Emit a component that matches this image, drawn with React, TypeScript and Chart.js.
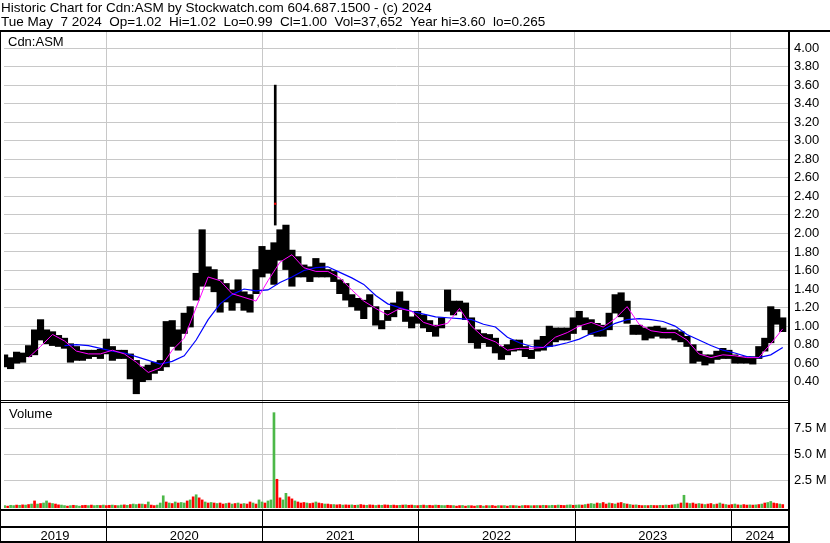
import { useEffect, useRef } from 'react';
import { Chart, registerables } from 'chart.js';

Chart.register(...registerables);

const headerLines = [
  'Historic Chart for Cdn:ASM by Stockwatch.com 604.687.1500 - (c) 2024',
  'Tue May  7 2024  Op=1.02  Hi=1.02  Lo=0.99  Cl=1.00  Vol=37,652  Year hi=3.60  lo=0.265',
];
const symbolLabel = 'Cdn:ASM';
const volumeLabel = 'Volume';

// time axis (decimal years)
const xMinYear = 2019.346;
const xMaxYear = 2024.373;
const firstSampleYear = 2019.35;
const priceStepYears = 14 / 365.25; // two-week high/low envelopes
const maStepYears = 28 / 365.25; // moving-average readings every four weeks
const volumeStepYears = 7 / 365.25; // weekly volume readings
const yearBoundaries = [2020, 2021, 2022, 2023, 2024];
const yearLabels = ['2019', '2020', '2021', '2022', '2023', '2024'];

const priceTicks = [0.4, 0.6, 0.8, 1.0, 1.2, 1.4, 1.6, 1.8, 2.0, 2.2, 2.4, 2.6, 2.8, 3.0, 3.2, 3.4, 3.6, 3.8, 4.0];
const volumeTicks = [2.5, 5.0, 7.5];

const priceHigh = [
  0.69, 0.66, 0.72, 0.71, 0.79, 0.96, 1.07, 0.96, 0.94, 0.90,
  0.87, 0.81, 0.78, 0.74, 0.74, 0.74, 0.75, 0.86, 0.78, 0.74,
  0.74, 0.70, 0.63, 0.56, 0.58, 0.61, 0.63, 1.05, 1.06, 0.96,
  1.14, 1.21, 1.57, 2.04, 1.64, 1.61, 1.50, 1.46, 1.39, 1.50,
  1.37, 1.34, 1.61, 1.86, 1.82, 1.90, 2.04, 2.09, 1.82, 1.75,
  1.66, 1.64, 1.73, 1.68, 1.61, 1.59, 1.50, 1.46, 1.34, 1.30,
  1.28, 1.34, 1.21, 1.06, 1.17, 1.25, 1.37, 1.27, 1.10, 1.16,
  1.12, 1.06, 1.01, 1.09, 1.39, 1.27, 1.27, 1.25, 1.09, 0.96,
  0.92, 0.91, 0.87, 0.78, 0.80, 0.85, 0.85, 0.78, 0.74, 0.85,
  0.89, 1.00, 0.98, 0.98, 0.98, 1.09, 1.16, 1.09, 1.07, 1.03,
  1.01, 1.14, 1.34, 1.36, 1.27, 1.01, 1.01, 0.98, 0.99, 1.00,
  0.98, 0.96, 0.96, 0.94, 0.89, 0.80, 0.73, 0.69, 0.69, 0.73,
  0.76, 0.74, 0.69, 0.67, 0.67, 0.67, 0.78, 0.87, 1.21, 1.18,
  1.09,
];
const priceLow = [
  0.56, 0.54, 0.60, 0.61, 0.67, 0.69, 0.85, 0.81, 0.79, 0.78,
  0.76, 0.61, 0.63, 0.63, 0.65, 0.67, 0.65, 0.70, 0.63, 0.65,
  0.65, 0.43, 0.27, 0.40, 0.42, 0.49, 0.52, 0.56, 0.78, 0.74,
  0.92, 0.99, 1.28, 1.43, 1.43, 1.37, 1.15, 1.26, 1.17, 1.25,
  1.17, 1.15, 1.35, 1.53, 1.57, 1.45, 1.71, 1.61, 1.43, 1.53,
  1.53, 1.48, 1.53, 1.53, 1.53, 1.48, 1.35, 1.28, 1.21, 1.17,
  1.08, 1.21, 1.01, 0.97, 1.06, 1.10, 1.18, 1.05, 0.98, 1.03,
  0.98, 0.94, 0.89, 0.98, 1.16, 1.12, 1.16, 1.07, 0.82, 0.76,
  0.82, 0.78, 0.71, 0.64, 0.69, 0.73, 0.74, 0.67, 0.65, 0.73,
  0.74, 0.78, 0.83, 0.85, 0.85, 0.92, 1.01, 0.96, 0.91, 0.89,
  0.89, 0.96, 1.14, 1.10, 1.03, 0.91, 0.91, 0.85, 0.87, 0.89,
  0.87, 0.87, 0.85, 0.83, 0.78, 0.60, 0.62, 0.58, 0.60, 0.64,
  0.65, 0.65, 0.60, 0.60, 0.60, 0.59, 0.65, 0.73, 0.82, 1.02,
  0.94,
];

// the single-day spike of January 2021
const spikeYear = [2021.083];
const spikeLow = [2.09];
const spikeHigh = [3.6];
const spikeClose = [2.32];

const maShort = [
  null, null, 0.66, 0.78, 0.91, 0.84, 0.73, 0.70, 0.70, 0.74,
  0.70, 0.61, 0.50, 0.55, 0.74, 0.87, 1.20, 1.53, 1.49, 1.35,
  1.31, 1.27, 1.49, 1.69, 1.77, 1.63, 1.59, 1.59, 1.52, 1.39,
  1.27, 1.19, 1.12, 1.19, 1.16, 1.04, 1.00, 1.03, 1.19, 1.00,
  0.88, 0.83, 0.74, 0.76, 0.76, 0.77, 0.88, 0.93, 1.00, 1.04,
  0.99, 1.08, 1.21, 1.02, 0.95, 0.93, 0.93, 0.85, 0.70, 0.66,
  0.69, 0.68, 0.66, 0.66, 0.81, 0.97,
];
const maLong = [
  null, null, null, null, null, 0.79, 0.80, 0.79, 0.76, 0.73,
  0.71, 0.67, 0.63, 0.59, 0.62, 0.68, 0.85, 1.07, 1.24, 1.34,
  1.40, 1.38, 1.39, 1.47, 1.53, 1.60, 1.63, 1.64, 1.58, 1.52,
  1.45, 1.33, 1.24, 1.20, 1.16, 1.13, 1.10, 1.09, 1.08, 1.07,
  1.02, 0.99, 0.88, 0.82, 0.78, 0.77, 0.79, 0.82, 0.86, 0.92,
  0.96, 1.03, 1.07, 1.08, 1.07, 1.05, 1.00, 0.91, 0.85, 0.79,
  0.74, 0.71, 0.67, 0.66, 0.69, 0.77,
];

// weekly volume, millions of shares
const volume = [
  0.05, 0, 0.08, 0.05, 0.1, 0.08, 0.12, 0.1, 0.15, 0.2,
  0.5, 0.2, 0.25, 0.3, 0.5, 0.3, 0.25, 0.2, 0.12, 0.1,
  0.05, 0, 0.05, 0.08, 0.05, 0, 0.06, 0.08, 0.05, 0.1,
  0.05, 0.08, 0.06, 0.1, 0.05, 0.08, 0.1, 0.06, 0.05, 0.1,
  0.12, 0.08, 0.15, 0.2, 0.15, 0.2, 0.2, 0.15, 0.4, 0.1,
  0.05, 0.1, 0.3, 1.0, 0.4, 0.3, 0.25, 0.4, 0.3, 0.35,
  0.3, 0.5, 0.6, 0.9, 1.1, 0.8, 0.6, 0.4, 0.3, 0.35,
  0.3, 0.25, 0.3, 0.2, 0.25, 0.3, 0.2, 0.25, 0.3, 0.2,
  0.25, 0.2, 0.4, 0.3, 0.2, 0.6, 0.4, 0.3, 0.5, 0.6,
  9.05, 2.6, 0.8, 0.6, 1.24, 0.9, 0.7, 0.5, 0.4, 0.3,
  0.35, 0.3, 0.25, 0.3, 0.4, 0.3, 0.25, 0.2, 0.2, 0.15,
  0.15, 0.12, 0.15, 0.1, 0.12, 0.1, 0.12, 0.08, 0.1, 0.15,
  0.1, 0.08, 0.12, 0.1, 0.06, 0.1, 0.08, 0.12, 0.1, 0.08,
  0.1, 0.06, 0.08, 0.1, 0.12, 0.08, 0.1, 0.06, 0.05, 0.08,
  0.1, 0.06, 0.08, 0.05, 0.1, 0.08, 0.06, 0.05, 0.08, 0.06,
  0.05, 0, 0.05, 0.06, 0, 0.05, 0.04, 0, 0.05, 0.06,
  0, 0.05, 0.04, 0.06, 0, 0.05, 0.04, 0.05, 0, 0.06,
  0.05, 0.04, 0, 0.05, 0.06, 0.05, 0.04, 0.05, 0.06, 0.05,
  0.08, 0.06, 0.05, 0.08, 0.06, 0.1, 0.08, 0.06, 0.1, 0.12,
  0.08, 0.1, 0.12, 0.1, 0.15, 0.2, 0.25, 0.2, 0.3, 0.25,
  0.35, 0.2, 0.3, 0.25, 0.2, 0.3, 0.35, 0.25, 0.2, 0.15,
  0.1, 0.12, 0.08, 0.05, 0.06, 0.05, 0.08, 0.06, 0.05, 0.08,
  0.06, 0.1, 0.08, 0.12, 0.15, 0.2, 0.3, 1.05, 0.3, 0.25,
  0.3, 0.2, 0.25, 0.2, 0.15, 0.2, 0.25, 0.15, 0.2, 0.3,
  0.2, 0.15, 0.1, 0.15, 0.2, 0.12, 0.1, 0.15, 0.1, 0.12,
  0.1, 0.12, 0.15, 0.2, 0.3, 0.35, 0.45, 0.3, 0.25, 0.2,
  0.15,
];
// g = up week, r = down week
const volumeDir =
  'grggrgrgrg' + 'rgrggrgrrg' + 'grgrggrrgr' + 'ggrgrrgrgg' + 'rgrggrgrgr' +
  'rgggrgrgrg' + 'grgrgrrgrg' + 'rgrrgrgrgr' + 'grrgrggrgg' + 'grrggrrgrr' +
  'rgrrgrrgrr' + 'grrgrrgrgr' + 'rgrrgrgrrg' + 'rrgrgrrgrg' + 'rgrrgrggrr' +
  'grrgrgrrgr' + 'grgrrgrgrg' + 'rgrgrrgrgr' + 'grggrgrrgg' + 'rggrgrggrg' +
  'rrgrgrrgrg' + 'rgrrgrgrrg' + 'rgrrggrgrg' + 'rrgrgrrgrg' + 'rgrrgrgrrg' +
  'rgrgrggrrg' + 'r';

const FONT = '"Liberation Sans", Arial, sans-serif';
const GRID = '#c8c8c8';
const UP = '#4cb848';
const DOWN = '#ff0000';

const framePlugin = {
  id: 'frame',
  afterDraw(chart: any) {
    const { ctx, chartArea: a, scales } = chart;
    const yP = scales.yPrice;
    const yV = scales.yVol;
    const x = scales.x;
    const W = chart.width;
    const H = chart.height;
    ctx.save();
    ctx.fillStyle = '#000';
    ctx.fillRect(0, a.top - 2, W, 2);
    ctx.fillRect(0, a.top - 2, 1, H - a.top + 2);
    ctx.fillRect(a.right - 1, a.top - 2, 2, H - a.top + 2);
    ctx.fillRect(0, yP.bottom - 1, a.right, 1);
    ctx.fillRect(0, yP.bottom + 1, a.right, 1);
    ctx.fillRect(0, a.bottom, a.right, 2);
    ctx.fillRect(0, a.bottom + 17, a.right, 2);
    ctx.fillRect(0, H - 2, a.right, 2);
    yearBoundaries.forEach((v) => {
      const px = Math.round(x.getPixelForValue(v));
      ctx.fillRect(px, a.bottom, 1, H - a.bottom);
    });
    ctx.font = `13px ${FONT}`;
    ctx.textBaseline = 'alphabetic';
    ctx.textAlign = 'left';
    ctx.fillText(symbolLabel, 8, yP.top + 14);
    ctx.fillText(volumeLabel, 9, yV.top + 17);
    ctx.restore();
  },
};

export default function App() {
  const ref = useRef<HTMLCanvasElement | null>(null);

  useEffect(() => {
    const canvas = ref.current;
    if (!canvas) return;
    Chart.defaults.font.family = FONT;
    Chart.defaults.font.size = 13;
    Chart.defaults.color = '#000';

    const rangePts = priceHigh.map((h, i) => ({ x: firstSampleYear + i * priceStepYears, y: [priceLow[i], h] }));
    const spikePts = spikeYear.map((t, i) => ({ x: t, y: [spikeLow[i], spikeHigh[i]] }));
    const closePts = spikeYear.map((t, i) => ({ x: t, y: spikeClose[i] }));
    const shortPts = maShort.map((v, k) => ({ x: firstSampleYear + k * maStepYears, y: v }));
    const longPts = maLong.map((v, k) => ({ x: firstSampleYear + k * maStepYears, y: v }));
    const volPts = volume.map((v, j) => ({ x: firstSampleYear + j * volumeStepYears, y: v }));
    const volColors = volume.map((_, j) => (volumeDir[j] === 'g' ? UP : DOWN));
    const yearMid = yearLabels.map((_, i) => {
      const lo = i === 0 ? xMinYear : yearBoundaries[i - 1];
      const hi = i === yearLabels.length - 1 ? xMaxYear : yearBoundaries[i];
      return (lo + hi) / 2;
    });

    const chart = new Chart(canvas, {
      type: 'bar',
      data: {
        datasets: [
          {
            type: 'line', label: 'Short MA', data: shortPts as any, xAxisID: 'x', yAxisID: 'yPrice',
            borderColor: '#ff00ff', borderWidth: 1, pointRadius: 0, order: 0,
          },
          {
            type: 'line', label: 'Long MA', data: longPts as any, xAxisID: 'x', yAxisID: 'yPrice',
            borderColor: '#0000ff', borderWidth: 1.2, pointRadius: 0, order: 0,
          },
          {
            type: 'line', label: 'Close', data: closePts as any, xAxisID: 'x', yAxisID: 'yPrice',
            showLine: false, pointStyle: 'rect', pointRadius: 1.5, pointBackgroundColor: '#ff0000',
            pointBorderWidth: 0, order: 1,
          },
          {
            type: 'bar', label: 'Spike', data: spikePts as any, xAxisID: 'x', yAxisID: 'yPrice',
            backgroundColor: '#000', barThickness: 2, grouped: false, order: 2,
          },
          {
            type: 'bar', label: 'Range', data: rangePts as any, xAxisID: 'x', yAxisID: 'yPrice',
            backgroundColor: '#000', barThickness: 6.5, grouped: false, order: 3,
          },
          {
            type: 'bar', label: 'Volume', data: volPts as any, xAxisID: 'x', yAxisID: 'yVol',
            backgroundColor: volColors, barThickness: 2, grouped: false, base: -0.15, order: 4,
          } as any,
        ],
      },
      options: {
        animation: false,
        responsive: false,
        devicePixelRatio: 1,
        layout: { padding: { left: 1, right: 0, top: 0, bottom: 0 } },
        plugins: {
          legend: { display: false },
          tooltip: { enabled: false },
          title: {
            display: true,
            text: headerLines,
            align: 'start',
            color: '#000',
            font: { family: FONT, size: 13.5, weight: 'normal', lineHeight: '14.6px' } as any,
            padding: { top: 0.5, bottom: 2.3 },
          },
        },
        scales: {
          x: {
            type: 'linear', position: 'bottom', min: xMinYear, max: xMaxYear, offset: false,
            grid: { color: GRID, drawTicks: false, offset: false },
            border: { display: false },
            ticks: { display: false },
            afterBuildTicks: (s: any) => { s.ticks = yearBoundaries.map((v) => ({ value: v })); },
          },
          xYears: {
            type: 'linear', position: 'bottom', min: xMinYear, max: xMaxYear, offset: false,
            grid: { display: false, drawTicks: false, offset: false },
            border: { display: false },
            ticks: {
              padding: 20, autoSkip: false, maxRotation: 0, color: '#000',
              callback: (_v: any, i: number) => yearLabels[i],
            },
            afterBuildTicks: (s: any) => { s.ticks = yearMid.map((v) => ({ value: v })); },
            afterFit: (s: any) => { s.height = 34; },
          },
          yPrice: {
            type: 'linear', position: 'right', stack: 'panels', stackWeight: 369,
            min: 0.192, max: 4.173,
            grid: { color: GRID, drawTicks: false },
            border: { display: false },
            ticks: { padding: 5, autoSkip: false, color: '#000', callback: (v: any) => Number(v).toFixed(2) },
            afterBuildTicks: (s: any) => { s.ticks = priceTicks.map((v) => ({ value: v })); },
            afterFit: (s: any) => { s.width = 41; },
          },
          yVol: {
            type: 'linear', position: 'right', stack: 'panels', stackWeight: 108,
            min: -0.28, max: 10.18,
            grid: { color: GRID, drawTicks: false },
            border: { display: false },
            ticks: { padding: 5, autoSkip: false, color: '#000', callback: (v: any) => `${Number(v).toFixed(1)} M` },
            afterBuildTicks: (s: any) => { s.ticks = volumeTicks.map((v) => ({ value: v })); },
            afterFit: (s: any) => { s.width = 41; },
          },
        } as any,
      },
      plugins: [framePlugin],
    });
    return () => chart.destroy();
  }, []);

  return (
    <div style={{ position: 'fixed', left: 0, top: 0, width: 830, height: 543, background: '#fff' }}>
      <canvas ref={ref} width={830} height={543} style={{ width: 830, height: 543, display: 'block' }} />
    </div>
  );
}
